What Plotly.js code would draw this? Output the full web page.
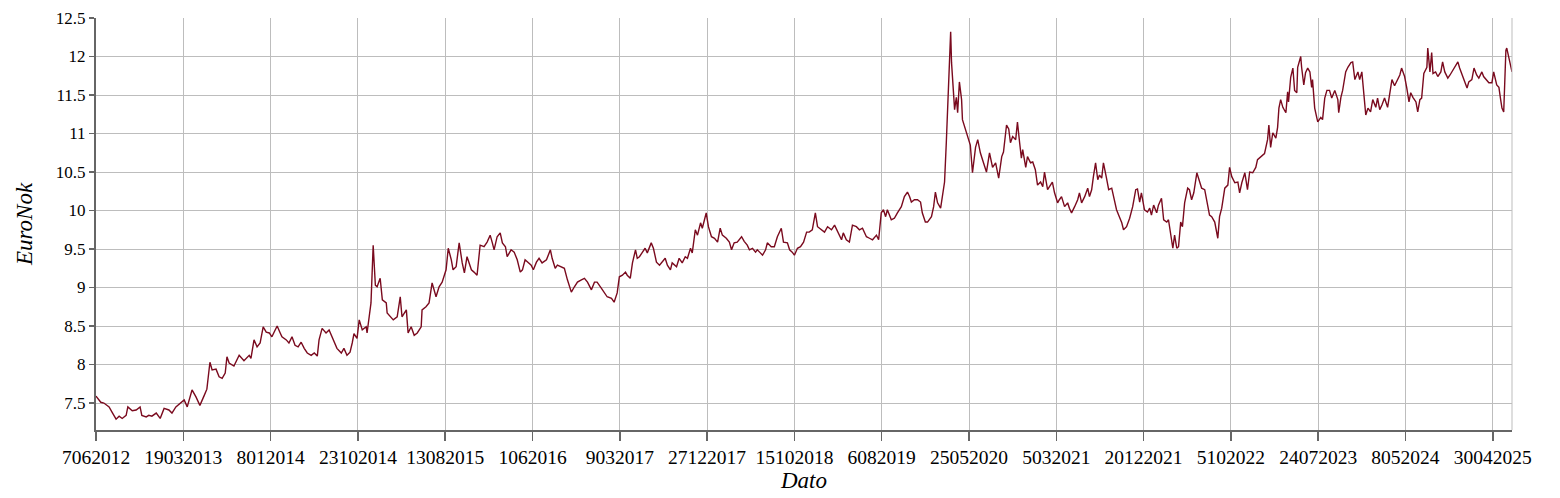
<!DOCTYPE html>
<html>
<head>
<meta charset="utf-8">
<script src="https://cdn.plot.ly/plotly-3.0.1.min.js"></script>
<style>html,body{margin:0;padding:0;background:#fff;}#chart{width:1560px;height:498px;}</style>
</head>
<body>
<div id="chart"></div>
<script>
// Tick labels every 200 trading days (DMMYYYY as in the source)
const tickLabels = ["7062012","19032013","8012014","23102014","13082015","1062016","9032017","27122017","15102018","6082019","25052020","5032021","20122021","5102022","24072023","8052024","30042025"];
const TICK_EVERY = 200;
// Trading-day number (0 = 7 June 2012) of each reading
const dayIndex = [
0,11,18,30,37,46,53,60,69,73,
83,92,101,105,115,121,128,138,147,156,
167,174,183,195,202,209,220,229,238,248,
254,261,266,275,282,289,296,300,305,316,
328,339,351,355,362,369,376,383,390,397,
403,408,415,422,426,436,442,449,456,463,
470,477,484,493,500,507,511,518,527,534,
539,546,552,562,568,575,582,587,591,598,
603,610,619,621,626,630,635,640,644,651,
656,665,667,674,681,690,697,701,711,715,
722,729,736,745,747,756,763,770,779,786,
793,802,807,814,818,825,832,839,844,850,
860,866,873,880,889,896,903,908,912,919,
926,931,938,942,947,951,958,965,972,977,
983,990,997,1002,1009,1015,1022,1032,1036,1041,
1045,1052,1057,1066,1073,1080,1089,1096,1103,1112,
1119,1126,1135,1142,1148,1158,1164,1171,1181,1187,
1194,1199,1206,1213,1217,1224,1229,1236,1240,1245,
1252,1258,1263,1268,1272,1277,1284,1291,1297,1304,
1309,1316,1320,1330,1336,1343,1350,1355,1362,1366,
1373,1378,1385,1389,1394,1398,1403,1410,1417,1424,
1430,1435,1444,1451,1456,1462,1469,1479,1485,1492,
1497,1504,1511,1515,1522,1527,1534,1538,1547,1554,
1561,1566,1570,1575,1584,1589,1595,1600,1607,1614,
1621,1628,1634,1641,1648,1653,1662,1669,1676,1685,
1692,1699,1708,1712,1719,1726,1733,1742,1749,1756,
1765,1772,1779,1788,1793,1799,1804,1809,1813,1822,
1829,1836,1845,1852,1859,1864,1868,1875,1882,1889,
1893,1900,1905,1914,1919,1923,1928,1935,1939,1944,
1948,1951,1955,1958,1960,1964,1967,1971,1974,1978,
1983,1985,1992,1997,2003,2008,2015,2020,2026,2031,
2040,2047,2054,2061,2068,2075,2079,2086,2091,2095,
2100,2107,2111,2116,2120,2123,2130,2134,2141,2146,
2152,2157,2164,2169,2173,2180,2187,2191,2196,2203,
2207,2212,2219,2226,2230,2235,2242,2249,2253,2258,
2265,2272,2276,2281,2285,2290,2295,2299,2304,2308,
2315,2320,2327,2331,2338,2343,2350,2354,2361,2368,
2375,2382,2386,2391,2395,2402,2409,2414,2418,2423,
2430,2434,2441,2446,2453,2457,2462,2467,2471,2476,
2480,2485,2489,2494,2501,2505,2510,2515,2522,2526,
2533,2540,2547,2551,2556,2563,2570,2574,2579,2586,
2593,2597,2602,2609,2616,2620,2625,2632,2638,2643,
2650,2657,2661,2668,2677,2684,2687,2691,2696,2703,
2707,2710,2714,2719,2726,2730,2732,2737,2742,2746,
2751,2753,2760,2762,2767,2771,2776,2781,2785,2787,
2792,2797,2799,2806,2810,2815,2820,2826,2831,2838,
2845,2847,2852,2856,2863,2868,2875,2879,2884,2891,
2895,2900,2904,2909,2914,2920,2925,2932,2936,2941,
2946,2952,2959,2964,2969,2975,2982,2987,2991,2998,
3003,3008,3012,3017,3024,3028,3033,3037,3042,3049,
3051,3056,3060,3063,3069,3074,3081,3085,3090,3097,
3102,3106,3113,3120,3124,3129,3134,3141,3145,3152,
3157,3163,3168,3175,3179,3186,3191,3198,3202,3209,
3214,3218,3221,3225,3230,3232,3237,3241,3244
];
// EUR/NOK reading at each day
const euroNok = [
7.59,7.51,7.50,7.45,7.38,7.29,7.33,7.30,7.34,7.45,
7.40,7.41,7.45,7.34,7.32,7.34,7.33,7.37,7.30,7.43,
7.41,7.37,7.45,7.50,7.54,7.45,7.67,7.58,7.47,7.60,
7.68,8.03,7.93,7.94,7.84,7.82,7.89,8.10,8.02,7.98,
8.12,8.05,8.12,8.08,8.32,8.23,8.28,8.49,8.42,8.41,
8.36,8.42,8.50,8.41,8.36,8.32,8.28,8.36,8.25,8.23,
8.29,8.21,8.15,8.12,8.15,8.11,8.32,8.47,8.41,8.45,
8.38,8.28,8.21,8.15,8.21,8.12,8.16,8.28,8.40,8.34,
8.58,8.45,8.49,8.41,8.67,8.80,9.55,9.03,9.01,9.12,
8.84,8.80,8.67,8.62,8.58,8.62,8.88,8.62,8.71,8.41,
8.49,8.38,8.41,8.49,8.71,8.75,8.80,9.06,8.88,9.01,
9.07,9.23,9.51,9.36,9.23,9.27,9.58,9.32,9.19,9.40,
9.23,9.20,9.16,9.55,9.53,9.59,9.68,9.58,9.49,9.66,
9.71,9.58,9.53,9.40,9.45,9.49,9.46,9.36,9.20,9.23,
9.36,9.33,9.29,9.23,9.33,9.38,9.32,9.36,9.42,9.49,
9.38,9.25,9.29,9.27,9.25,9.10,8.94,9.01,9.07,9.10,
9.12,9.07,8.97,9.07,9.07,8.99,8.94,8.88,8.86,8.81,
8.93,9.14,9.16,9.20,9.16,9.12,9.32,9.49,9.38,9.40,
9.46,9.51,9.45,9.53,9.58,9.51,9.33,9.29,9.33,9.38,
9.29,9.23,9.32,9.27,9.38,9.32,9.40,9.38,9.51,9.45,
9.75,9.68,9.84,9.77,9.88,9.97,9.79,9.66,9.64,9.59,
9.77,9.68,9.64,9.59,9.49,9.58,9.59,9.66,9.60,9.55,
9.49,9.51,9.46,9.49,9.45,9.42,9.49,9.58,9.53,9.53,
9.66,9.72,9.77,9.59,9.58,9.49,9.46,9.42,9.51,9.53,
9.59,9.72,9.72,9.75,9.97,9.79,9.75,9.72,9.79,9.75,
9.81,9.72,9.62,9.71,9.62,9.59,9.81,9.79,9.75,9.77,
9.66,9.64,9.62,9.68,9.62,9.97,10.01,9.92,10.01,9.88,
9.90,9.97,10.05,10.18,10.24,10.18,10.11,10.14,10.14,10.11,
9.97,9.85,9.85,9.92,10.05,10.24,10.10,10.03,10.18,10.37,
10.88,11.34,11.95,12.32,11.92,11.60,11.31,11.47,11.27,11.67,
11.44,11.18,11.05,10.98,10.85,10.49,10.82,10.92,10.75,10.66,
10.50,10.75,10.56,10.62,10.42,10.70,10.76,11.11,11.06,10.88,
10.96,10.92,11.15,10.88,10.68,10.79,10.56,10.70,10.62,10.63,
10.53,10.33,10.37,10.31,10.50,10.27,10.33,10.37,10.23,10.10,
10.14,10.18,10.05,10.10,10.03,9.97,10.05,10.14,10.23,10.10,
10.18,10.29,10.18,10.27,10.44,10.62,10.40,10.46,10.42,10.62,
10.42,10.27,10.29,10.18,10.01,9.94,9.84,9.75,9.79,9.90,
10.05,10.27,10.28,10.11,10.23,10.01,9.98,10.03,9.94,10.07,
9.97,10.07,10.16,9.88,9.85,9.88,9.71,9.51,9.68,9.51,
9.53,9.85,9.79,10.10,10.29,10.27,10.14,10.23,10.49,10.42,
10.29,10.27,10.03,9.94,9.92,9.85,9.64,9.92,10.03,10.29,
10.33,10.56,10.44,10.36,10.37,10.23,10.36,10.49,10.27,10.50,
10.49,10.56,10.66,10.70,10.74,10.92,11.11,10.82,11.01,10.94,
11.08,11.33,11.44,11.34,11.27,11.54,11.41,11.73,11.85,11.56,
11.53,11.86,12.00,11.86,11.63,11.79,11.85,11.80,11.60,11.70,
11.33,11.20,11.15,11.21,11.18,11.46,11.56,11.56,11.46,11.56,
11.44,11.27,11.47,11.56,11.80,11.86,11.92,11.93,11.70,11.80,
11.70,11.80,11.53,11.24,11.33,11.28,11.44,11.34,11.46,11.31,
11.37,11.46,11.34,11.53,11.70,11.62,11.70,11.76,11.85,11.74,
11.59,11.41,11.53,11.47,11.41,11.28,11.44,11.46,11.78,11.86,
12.11,11.80,12.05,11.78,11.80,11.74,11.80,11.93,11.80,11.72,
11.76,11.80,11.86,11.93,11.85,11.78,11.70,11.59,11.67,11.70,
11.85,11.76,11.72,11.80,11.74,11.70,11.66,11.66,11.80,11.63,
11.60,11.44,11.33,11.28,12.08,12.11,11.98,11.86,11.80
];
const yTickVals = [7.5, 8, 8.5, 9, 9.5, 10, 10.5, 11, 11.5, 12, 12.5];
const yTickText = ['7.5','8','8.5','9','9.5','10','10.5','11','11.5','12','12.5'];

const tickVals = tickLabels.map((_, k) => k * TICK_EVERY);
const serif = '"Liberation Serif", "Times New Roman", serif';
const trace = {
  x: dayIndex, y: euroNok, type: 'scatter', mode: 'lines',
  line: {color: '#7a0a1e', width: 1.4}, hoverinfo: 'skip'
};
const layout = {
  width: 1560, height: 498,
  margin: {l: 96, r: 48, t: 18, b: 68},
  paper_bgcolor: '#fff', plot_bgcolor: '#fff',
  showlegend: false,
  font: {family: serif, color: '#000'},
  xaxis: {
    range: [0, dayIndex[dayIndex.length - 1]],
    tickvals: tickVals, ticktext: tickLabels,
    tickfont: {family: serif, size: 19.5, color: '#000'},
    ticks: 'outside', ticklen: 9, tickcolor: '#666', tickwidth: 1.5,
    showgrid: true, gridcolor: '#bdbdbd', gridwidth: 1,
    showline: true, linecolor: '#666', linewidth: 2,
    zeroline: false,
    title: {text: 'Dato', font: {family: serif, size: 23, color: '#000', style: 'italic'}, standoff: 4}
  },
  yaxis: {
    range: [7.15, 12.5],
    tickvals: yTickVals, ticktext: yTickText,
    tickfont: {family: serif, size: 17, color: '#000'},
    ticks: 'outside', ticklen: 5, tickcolor: '#666', tickwidth: 1.5,
    showgrid: true, gridcolor: '#bdbdbd', gridwidth: 1,
    showline: true, linecolor: '#666', linewidth: 2,
    zeroline: false,
    title: {text: 'EuroNok', font: {family: serif, size: 23, color: '#000', style: 'italic'}, standoff: 17}
  },
  shapes: [{type: 'line', xref: 'paper', yref: 'paper', x0: 1, x1: 1, y0: 0, y1: 1, line: {color: '#bdbdbd', width: 1}}]
};
Plotly.newPlot('chart', [trace], layout, {staticPlot: true, displayModeBar: false});
</script>
</body>
</html>
